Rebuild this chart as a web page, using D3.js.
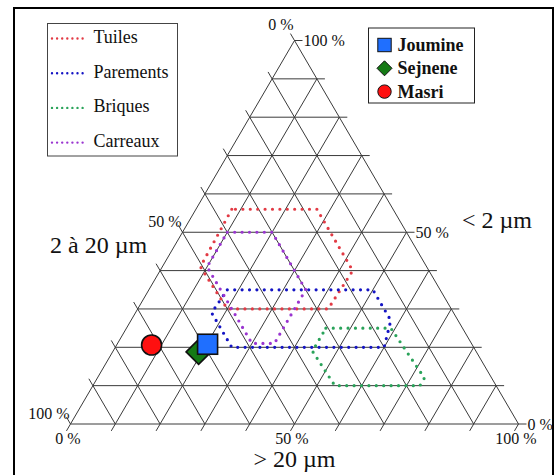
<!DOCTYPE html>
<html>
<head>
<meta charset="utf-8">
<script src="https://cdn.jsdelivr.net/npm/d3@7/dist/d3.min.js"></script>
<style>
  body { margin: 0; background: #fff; }
</style>
</head>
<body>
<script>

// ternary values are [clay (< 2 µm), silt (2 à 20 µm), sand (> 20 µm)] in %
var gridSteps = [0, 10, 20, 30, 40, 50, 60, 70, 80, 90, 100];
var labelValues = [0, 50, 100];
var labelTexts = ["0 %", "50 %", "100 %"];

var zoneNames = ["Tuiles", "Parements", "Briques", "Carreaux"];
var zoneColors = ["#e23a44", "#1414c4", "#2aa35a", "#9a35d0"];

var tuilesZone = [[56, 36, 8], [41, 50.5, 8.5], [30, 50, 20], [30, 27.5, 42.5], [40, 17, 43], [56, 17, 27]];
var parementsZone = [[35, 47.5, 17.5], [35, 15, 50], [27, 15, 58], [20, 20, 60], [20, 54, 26], [29, 54, 17]];
var briquesZone = [[25, 30.5, 44.5], [25, 16, 59], [12, 15, 73], [10, 17, 73], [10, 36, 54], [19, 36.5, 44.5]];
var carreauxZone = [[50, 40, 10], [50, 30, 20], [35, 30, 35], [21, 44, 35], [21, 49, 30], [41, 49, 10]];

var sampleNames = ["Masri", "Sejnene", "Joumine"];
var sampleClay = [20.6, 18.8, 20.8];
var sampleSilt = [71.6, 62, 59];
var sampleSand = [7.8, 19.2, 20.2];
var sampleColors = ["#ff1010", "#157a15", "#1f6fff"];
var sampleShapes = ["circle", "diamond", "square"];

var legendSamples = ["Joumine", "Sejnene", "Masri"];

var width = 557, height = 475, tickLen = 8;

var svg = d3.select("body").append("svg")
    .attr("width", width)
    .attr("height", height)
    .attr("font-family", "'Liberation Serif', 'Times New Roman', 'DejaVu Serif', serif")
    .style("font-family", "'Liberation Serif', 'Times New Roman', 'DejaVu Serif', serif");

svg.append("rect")
    .attr("x", 14).attr("y", 8)
    .attr("width", 539).attr("height", 490)
    .attr("fill", "#fff")
    .attr("stroke", "#000")
    .attr("stroke-width", 2);

var xScale = d3.scaleLinear().domain([0, 100]).range([70.5, 518.5]);
var yScale = d3.scaleLinear().domain([0, 100]).range([424, 40.5]);

function project(clay, sand) {
    return [xScale(sand + clay / 2), yScale(clay)];
}

// unit directions of the two slanted edges
var dx = xScale(50) - xScale(0), dy = yScale(0) - yScale(100);
var len = Math.sqrt(dx * dx + dy * dy);
var ux = dx / len, uy = dy / len;

var grid = svg.append("g")
    .attr("stroke", "#3a3a3a")
    .attr("stroke-width", 1)
    .attr("fill", "none");

// constant clay: horizontal lines with tick on the right
grid.selectAll(".clay").data(gridSteps).enter().append("line")
    .attr("x1", function(c) { return project(c, 0)[0]; })
    .attr("y1", function(c) { return yScale(c); })
    .attr("x2", function(c) { return project(c, 100 - c)[0] + tickLen; })
    .attr("y2", function(c) { return yScale(c); });

// constant silt: parallel to right edge, tick past the left edge
grid.selectAll(".silt").data(gridSteps).enter().append("line")
    .attr("x1", function(s) { return project(100 - s, 0)[0] - ux * tickLen; })
    .attr("y1", function(s) { return project(100 - s, 0)[1] - uy * tickLen; })
    .attr("x2", function(s) { return project(0, 100 - s)[0]; })
    .attr("y2", function(s) { return project(0, 100 - s)[1]; });

// constant sand: parallel to left edge, tick below the base
grid.selectAll(".sand").data(gridSteps).enter().append("line")
    .attr("x1", function(t) { return project(100 - t, t)[0]; })
    .attr("y1", function(t) { return project(100 - t, t)[1]; })
    .attr("x2", function(t) { return project(0, t)[0] - ux * tickLen; })
    .attr("y2", function(t) { return project(0, t)[1] + uy * tickLen; });

// zones
var zones = [tuilesZone, parementsZone, briquesZone, carreauxZone];
var zoneLine = d3.line()
    .x(function(p) { return project(p[0], p[2])[0]; })
    .y(function(p) { return project(p[0], p[2])[1]; })
    .curve(d3.curveLinearClosed);

svg.append("g").selectAll("path").data(zones).enter().append("path")
    .attr("d", zoneLine)
    .attr("fill", "none")
    .attr("stroke", function(d, i) { return zoneColors[i]; })
    .attr("stroke-width", 3.2)
    .attr("stroke-linecap", "round")
    .attr("stroke-dasharray", "0 7.4");

// samples
function drawMarker(sel, shape, size, color) {
    if (shape === "circle") {
        sel.append("circle").attr("r", size / 2);
    } else if (shape === "square") {
        sel.append("rect").attr("x", -size / 2).attr("y", -size / 2)
            .attr("width", size).attr("height", size);
    } else {
        var h = size / 2;
        sel.append("path").attr("d", "M" + (-h) + ",0L0," + (-h) + "L" + h + ",0L0," + h + "Z");
    }
    sel.selectAll("*")
        .attr("fill", color)
        .attr("stroke", "#111")
        .attr("stroke-width", 1.6);
}

var markerSizes = { circle: 20, square: 20, diamond: 25 };

sampleNames.forEach(function(name, i) {
    var p = project(sampleClay[i], sampleSand[i]);
    var g = svg.append("g").attr("transform", "translate(" + p[0] + "," + p[1] + ")");
    drawMarker(g, sampleShapes[i], markerSizes[sampleShapes[i]], sampleColors[i]);
});

// tick labels
var labels = svg.append("g").attr("font-size", 16).attr("fill", "#111");

labelValues.forEach(function(v, i) {
    // right side: < 2 µm
    var r = project(v, 100 - v);
    labels.append("text")
        .attr("x", r[0] + tickLen + 1)
        .attr("y", r[1] + 5.5)
        .text(labelTexts[i]);

    // left side: 2 à 20 µm
    var l = project(100 - v, 0);
    labels.append("text")
        .attr("text-anchor", "end")
        .attr("x", l[0] - ux * tickLen + 3)
        .attr("y", l[1] - uy * tickLen + (v === 0 ? -3.5 : 2))
        .text(labelTexts[i]);

    // bottom: > 20 µm
    var b = project(0, v);
    labels.append("text")
        .attr("text-anchor", "middle")
        .attr("x", b[0] - ux * tickLen + 1.5)
        .attr("y", b[1] + uy * tickLen + 13)
        .text(labelTexts[i]);
});

var titles = svg.append("g").attr("font-size", 24).attr("fill", "#111");
titles.append("text").attr("x", 50).attr("y", 253).text("2 à 20 µm");
titles.append("text").attr("x", 462).attr("y", 228).text("< 2 µm");
titles.append("text").attr("x", xScale(50)).attr("y", 467)
    .attr("text-anchor", "middle").text("> 20 µm");

// zone legend
var legend = svg.append("g");
legend.append("rect")
    .attr("x", 47.5).attr("y", 23.5)
    .attr("width", 130).attr("height", 132.5)
    .attr("fill", "#fff")
    .attr("stroke", "#444")
    .attr("stroke-width", 1);

zoneNames.forEach(function(name, i) {
    var y = 38.5 + i * 34.7;
    legend.append("line")
        .attr("x1", 52).attr("x2", 83)
        .attr("y1", y).attr("y2", y)
        .attr("stroke", zoneColors[i])
        .attr("stroke-width", 2.4)
        .attr("stroke-linecap", "round")
        .attr("stroke-dasharray", "0 5.1");
    legend.append("text")
        .attr("x", 93.5).attr("y", y + 4.5)
        .attr("font-size", 18)
        .attr("fill", "#111")
        .text(name);
});

// sample legend
var legend2 = svg.append("g");
legend2.append("rect")
    .attr("x", 368.5).attr("y", 28)
    .attr("width", 106).attr("height", 75)
    .attr("fill", "#fff")
    .attr("stroke", "#222")
    .attr("stroke-width", 1);

var legendMarkerSizes = { circle: 13.4, square: 13.4, diamond: 15 };

legendSamples.forEach(function(name, i) {
    var k = sampleNames.indexOf(name);
    var y = 45 + i * 23.3;
    var g = legend2.append("g").attr("transform", "translate(" + 384.5 + "," + y + ")");
    drawMarker(g, sampleShapes[k], legendMarkerSizes[sampleShapes[k]], sampleColors[k]);
    g.selectAll("*").attr("stroke-width", 1);
    legend2.append("text")
        .attr("x", 397.5).attr("y", y + 6)
        .attr("font-size", 18)
        .attr("font-weight", "bold")
        .attr("fill", "#111")
        .text(name);
});

</script>
</body>
</html>
